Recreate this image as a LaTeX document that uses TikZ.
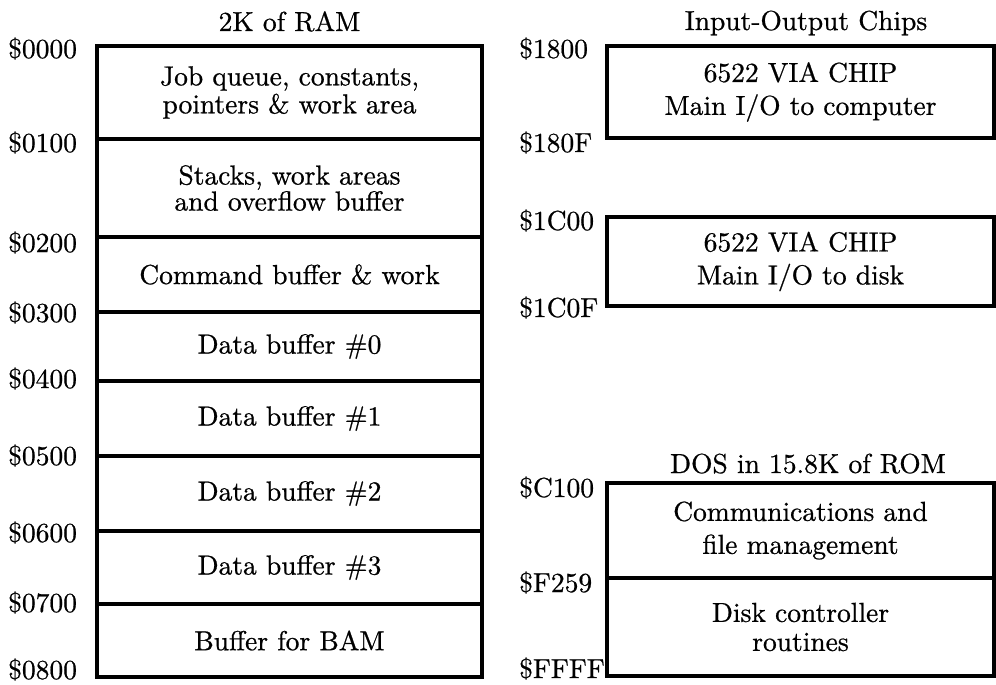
\documentclass[tikz,border=0pt]{standalone}
\usepackage{fontspec}
\setmainfont{lmroman10-regular}[Extension=.otf, FakeBold=0.7]
\begin{document}
\begin{tikzpicture}[x=1pt,y=-1pt,
  txt/.style={font=\fontsize{27.5}{28}\selectfont},
  cell/.style={txt, draw, line width=3.6pt, inner sep=0pt, align=center},
  ramcell/.style={cell, minimum width=385pt},
  iocell/.style={cell, minimum width=387pt},
  addr/.style={txt, inner sep=0pt, anchor=base west},
  ttl/.style={txt, inner sep=0pt, anchor=base}]
\useasboundingbox (0,0) rectangle (996,685);
% RAM
\node[ttl] (tram) at (289.5,31) {2K of RAM};
\node[ramcell, minimum height=93pt] (r0) at (289.5,92.5) {Job queue, constants,\\ pointers \& work area};
\node[ramcell, minimum height=98pt] (r1) at (289.5,188) {Stacks, work areas\\[-2pt] and overflow buffer};
\node[ramcell, minimum height=75pt] (r2) at (289.5,274.5) {Command buffer \& work};
\node[ramcell, minimum height=69pt] (r3) at (289.5,346.5) {Data buffer \#0};
\node[ramcell, minimum height=75pt] (r4) at (289.5,418.5) {Data buffer \#1};
\node[ramcell, minimum height=75pt] (r5) at (289.5,493.5) {Data buffer \#2};
\node[ramcell, minimum height=73pt] (r6) at (289.5,567.5) {Data buffer \#3};
\node[ramcell, minimum height=73pt] (r7) at (289.5,640.5) {Buffer for BAM};
\node[addr] (a0) at (8,58) {\$0000};
\node[addr] (a1) at (8,152) {\$0100};
\node[addr] (a2) at (8,252) {\$0200};
\node[addr] (a3) at (8,322) {\$0300};
\node[addr] (a4) at (8,388) {\$0400};
\node[addr] (a5) at (8,465) {\$0500};
\node[addr] (a6) at (8,542) {\$0600};
\node[addr] (a7) at (8,612) {\$0700};
\node[addr] (a8) at (8,679) {\$0800};
% I/O
\node[ttl] (tio) at (806,30) {Input-Output Chips};
\node[iocell, minimum height=92pt] (io1) at (800.5,92) {6522 VIA CHIP\\[5pt] Main I/O to computer};
\node[iocell, minimum height=89pt] (io2) at (800.5,261.5) {6522 VIA CHIP\\[5pt] Main I/O to disk};
\node[addr] (b0) at (519,58) {\$1800};
\node[addr] (b1) at (519,152) {\$180F};
\node[addr] (b2) at (519,230) {\$1C00};
\node[addr] (b3) at (519,317) {\$1C0F};
% ROM
\node[ttl] (trom) at (808,473) {DOS in 15.8K of ROM};
\node[iocell, minimum height=95pt] (m1) at (800.5,530.5) {Communications and\\[5pt] file management};
\node[iocell, minimum height=98pt] (m2) at (800.5,627) {Disk controller\\[1pt] routines};
\node[addr] (c0) at (519,497) {\$C100};
\node[addr] (c1) at (519,592) {\$F259};
\node[addr] (c2) at (519,678) {\$FFFF};
\end{tikzpicture}
\end{document}
